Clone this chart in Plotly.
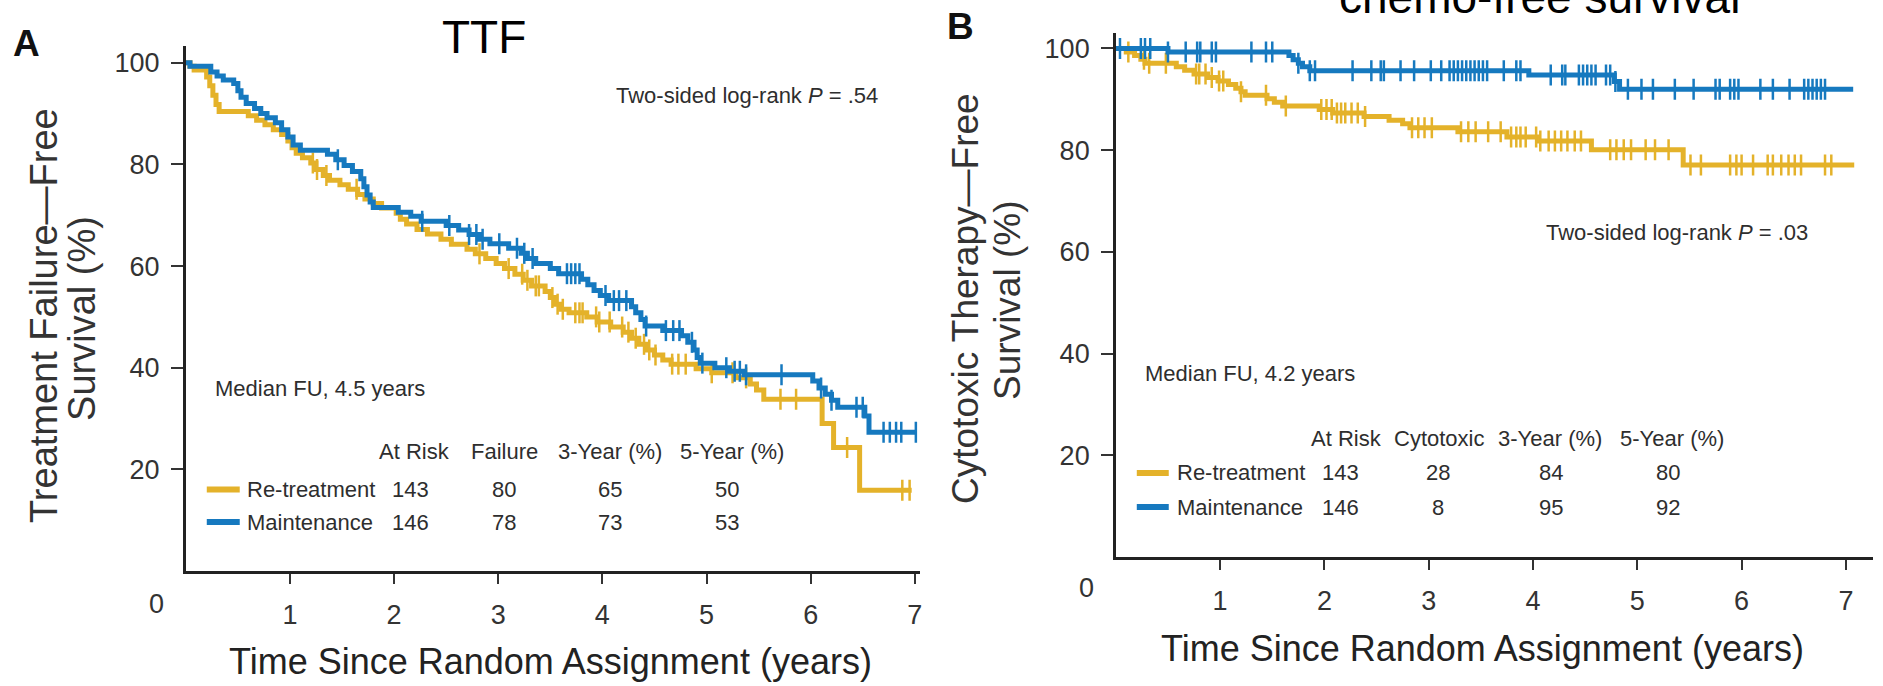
import plotly.graph_objects as go

W, H = 1883, 686

GOLD = "#E4B22A"
BLUE = "#1679BF"
INK = "#2e2e2e"
SANS = "Liberation Sans, Arial, Helvetica, sans-serif"

# ---------------- Panel A: treatment failure-free survival ----------------
A_MAINT_T = [0, 0.04, 0.24, 0.30, 0.36, 0.46, 0.50, 0.53, 0.58, 0.66,
             0.72, 0.78, 0.86, 0.92, 0.98, 1.03, 1.10, 1.36, 1.44, 1.52,
             1.60, 1.68, 1.71, 1.74, 1.77, 1.80, 2.04, 2.16, 2.26, 2.50,
             2.62, 2.72, 2.82, 2.92, 3.10, 3.22, 3.28, 3.36, 3.50, 3.58,
             3.80, 3.86, 3.92, 3.98, 4.06, 4.28, 4.32, 4.37, 4.41, 4.58,
             4.76, 4.82, 4.88, 4.91, 4.94, 5.08, 5.22, 5.36, 6.02, 6.08,
             6.14, 6.20, 6.26, 6.52, 6.56]
A_MAINT_S = [100, 99.3, 98.2, 97.4, 96.6, 95.9, 94.5, 93.2, 92.0, 91.0,
             90.0, 89.2, 88.2, 86.8, 85.4, 83.8, 82.8, 82.0, 80.9, 79.8,
             78.6, 77.2, 75.6, 74.0, 72.6, 71.5, 70.6, 69.8, 68.8, 68.0,
             67.1, 66.2, 65.3, 64.4, 63.5, 62.5, 61.5, 60.5, 59.5, 58.5,
             57.4, 56.3, 55.2, 54.2, 53.2, 52.0, 50.8, 49.5, 48.2, 47.3,
             46.3, 45.0, 43.5, 42.0, 40.9, 40.0, 39.3, 38.6, 37.4, 36.0,
             34.8, 33.6, 32.2, 30.5, 27.3]
A_MAINT_END = 7.02
A_MAINT_CENS = [1.46, 2.27, 2.53, 2.72, 2.79, 2.85, 3.01, 3.18, 3.25, 3.33,
                3.66, 3.70, 3.74, 3.78, 4.03, 4.11, 4.16, 4.23, 4.42, 4.61,
                4.68, 4.74, 4.86, 4.96, 5.19, 5.27, 5.32, 5.38, 5.72, 6.10,
                6.20, 6.44, 6.50, 6.70, 6.76, 6.82, 6.87, 7.01]

A_RETX_T = [0, 0.04, 0.08, 0.20, 0.23, 0.26, 0.29, 0.32, 0.60, 0.68,
            0.76, 0.84, 0.92, 0.98, 1.02, 1.06, 1.12, 1.20, 1.25, 1.32,
            1.38, 1.48, 1.56, 1.65, 1.72, 1.80, 1.88, 2.02, 2.06, 2.12,
            2.22, 2.32, 2.45, 2.55, 2.70, 2.78, 2.88, 2.98, 3.06, 3.16,
            3.24, 3.32, 3.45, 3.50, 3.54, 3.60, 3.68, 3.85, 3.95, 4.08,
            4.20, 4.28, 4.35, 4.42, 4.50, 4.58, 4.66, 4.90, 5.05, 5.28,
            5.42, 5.48, 5.55, 6.11, 6.22, 6.47]
A_RETX_S = [100, 99.3, 98.6, 97.2, 95.5, 93.6, 91.8, 90.4, 89.6, 88.7,
            87.8, 86.8, 85.9, 84.6, 83.3, 82.2, 81.3, 80.3, 79.0, 77.8,
            76.9, 76.0, 75.1, 74.1, 73.2, 72.3, 71.4, 70.4, 69.2, 68.3,
            67.2, 66.3, 65.3, 64.3, 63.3, 62.4, 61.5, 60.5, 59.5, 58.4,
            57.2, 56.1, 55.0, 53.8, 52.5, 51.5, 50.8, 50.0, 49.0, 48.0,
            47.0, 45.8, 44.6, 43.5, 42.5, 41.5, 40.7, 39.8, 39.0, 38.0,
            36.8, 35.6, 33.8, 29.0, 24.3, 15.9]
A_RETX_END = 6.97
A_RETX_CENS = [1.22, 1.26, 1.35, 1.64, 2.82, 3.10, 3.23, 3.28, 3.36, 3.39,
               3.52, 3.57, 3.62, 3.74, 3.78, 3.81, 3.94, 3.97, 4.07, 4.19,
               4.25, 4.32, 4.40, 4.45, 4.51, 4.67, 4.73, 4.80, 5.05, 5.25,
               5.38, 5.71, 5.86, 6.35, 6.88, 6.95]

A_HEAD = ["At Risk", "Failure", "3-Year (%)", "5-Year (%)"]
A_RETX_ROW = ["143", "80", "65", "50"]
A_MAINT_ROW = ["146", "78", "73", "53"]

# ---------------- Panel B: cytotoxic therapy-free survival ----------------
B_MAINT_T = [0, 0.50, 1.66, 1.70, 1.75, 1.79, 1.86, 3.96, 4.78, 4.83]
B_MAINT_S = [100, 99.3, 98.6, 97.8, 97.1, 96.4, 95.6, 94.8, 93.5, 92.0]
B_MAINT_END = 7.07
B_MAINT_CENS = [0.04, 0.24, 0.28, 0.33, 0.50, 0.67, 0.78, 0.81, 0.92, 0.96,
                1.30, 1.44, 1.50, 1.75, 1.86, 1.91, 2.27, 2.45, 2.54, 2.57,
                2.73, 2.86, 3.02, 3.12, 3.20, 3.24, 3.28, 3.32, 3.36, 3.40,
                3.44, 3.48, 3.52, 3.56, 3.72, 3.84, 3.88, 4.17, 4.28, 4.31,
                4.44, 4.48, 4.52, 4.56, 4.60, 4.70, 4.74, 4.79, 4.91, 5.04,
                5.15, 5.36, 5.54, 5.75, 5.79, 5.89, 5.93, 5.97, 6.18, 6.30,
                6.46, 6.60, 6.64, 6.68, 6.72, 6.76, 6.80]

B_RETX_T = [0, 0.10, 0.18, 0.24, 0.28, 0.58, 0.66, 0.75, 0.88, 0.98,
            1.08, 1.15, 1.20, 1.24, 1.45, 1.52, 1.60, 1.95, 2.08, 2.38,
            2.62, 2.75, 2.82, 3.28, 3.75, 4.05, 4.56, 5.44]
B_RETX_S = [100, 99.3, 98.6, 97.9, 97.1, 96.4, 95.7, 95.0, 94.3, 93.6,
            92.9, 92.2, 91.5, 90.8, 90.1, 89.4, 88.7, 88.0, 87.3, 86.6,
            85.9, 85.2, 84.4, 83.6, 82.6, 81.8, 80.1, 77.1]
B_RETX_END = 7.08
B_RETX_CENS = [0.12, 0.27, 0.32, 0.48, 0.77, 0.80, 0.86, 0.92, 0.99, 1.03,
               1.20, 1.44, 1.63, 1.97, 2.02, 2.07, 2.12, 2.16, 2.20, 2.26,
               2.32, 2.39, 2.84, 2.90, 2.96, 3.03, 3.31, 3.38, 3.45, 3.57,
               3.69, 3.79, 3.84, 3.88, 3.93, 4.03, 4.07, 4.15, 4.21, 4.27,
               4.33, 4.40, 4.46, 4.74, 4.80, 4.87, 4.94, 5.08, 5.17, 5.30,
               5.51, 5.61, 5.89, 5.95, 6.00, 6.11, 6.25, 6.30, 6.38, 6.45,
               6.51, 6.57, 6.80, 6.86]

B_HEAD = ["At Risk", "Cytotoxic", "3-Year (%)", "5-Year (%)"]
B_RETX_ROW = ["143", "28", "84", "80"]
B_MAINT_ROW = ["146", "8", "95", "92"]

ARM_LABELS = ["Re-treatment", "Maintenance"]
X_TICKS = [1, 2, 3, 4, 5, 6, 7]
Y_TICKS = [20, 40, 60, 80, 100]


def fx(px):
    return px / W


def fy(py):
    return 1 - py / H


def surv_at(ts, ss, t):
    v = ss[0]
    for ti, si in zip(ts, ss):
        if ti <= t:
            v = si
    return v


fig = go.Figure()


def add_km(ts, ss, end, cens, color, xa, ya):
    # step curve, then censoring ticks sitting on it
    fig.add_trace(go.Scatter(
        x=list(ts) + [end], y=list(ss) + [ss[-1]], mode="lines",
        line=dict(color=color, width=5, shape="hv"),
        xaxis=xa, yaxis=ya, showlegend=False, hoverinfo="skip"))
    fig.add_trace(go.Scatter(
        x=cens, y=[surv_at(ts, ss, c) for c in cens], mode="markers",
        marker=dict(symbol="line-ns", size=15, line=dict(color=color, width=2.5)),
        xaxis=xa, yaxis=ya, showlegend=False, hoverinfo="skip"))


add_km(A_RETX_T, A_RETX_S, A_RETX_END, A_RETX_CENS, GOLD, "x", "y")
add_km(A_MAINT_T, A_MAINT_S, A_MAINT_END, A_MAINT_CENS, BLUE, "x", "y")
add_km(B_RETX_T, B_RETX_S, B_RETX_END, B_RETX_CENS, GOLD, "x2", "y2")
add_km(B_MAINT_T, B_MAINT_S, B_MAINT_END, B_MAINT_CENS, BLUE, "x2", "y2")

tickfont = dict(family=SANS, size=27, color="#333333")


def xaxis(domain, rng, anchor):
    return dict(domain=domain, range=rng, anchor=anchor, tickvals=X_TICKS,
                ticks="outside", ticklen=10, tickwidth=2, tickcolor="#333333",
                showline=True, linewidth=2.5, linecolor="#222222",
                showgrid=False, zeroline=False, tickfont=tickfont,
                ticklabelstandoff=8, fixedrange=True)


def yaxis(domain, rng, anchor):
    return dict(domain=domain, range=rng, anchor=anchor, tickvals=Y_TICKS,
                ticks="outside", ticklen=12, tickwidth=2, tickcolor="#333333",
                showline=True, linewidth=2.5, linecolor="#222222",
                showgrid=False, zeroline=False, tickfont=tickfont,
                ticklabelstandoff=6, fixedrange=True)


annotations = []
shapes = []
SMALL = 22


def text(s, x, y, size, family=SANS, color=INK, xanchor="center",
         yanchor="middle", angle=0):
    annotations.append(dict(text=s, x=fx(x), y=fy(y), xref="paper", yref="paper",
                            xanchor=xanchor, yanchor=yanchor, showarrow=False,
                            textangle=angle, font=dict(family=family, size=size, color=color)))


def swatch(x0, x1, y, color):
    shapes.append(dict(type="line", xref="paper", yref="paper", x0=fx(x0), x1=fx(x1),
                       y0=fy(y), y1=fy(y), line=dict(color=color, width=6)))


def table(head, rows, head_x, val_x, head_y, row_y, label_x, sw_x):
    for h, x in zip(head, head_x):
        text(h, x, head_y, SMALL)
    for row, lab, y, col in zip(rows, ARM_LABELS, row_y, [GOLD, BLUE]):
        swatch(sw_x[0], sw_x[1], y, col)
        text(lab, label_x, y, SMALL, xanchor="left")
        for v, x in zip(row, val_x):
            text(v, x, y, SMALL)


# Panel A decorations
text("<b>A</b>", 27, 44, 37, color="#111111")
text("TTF", 485, 37, 46, color="#000000")
text("Treatment Failure\u2014Free", 44, 315, 38, color="#333333", angle=-90)
text("Survival (%)", 82, 318, 38, color="#333333", angle=-90)
text("Time Since Random Assignment (years)", 551, 661, 36, color="#222222")
text("Two-sided log-rank <i>P</i> = .54", 881, 95, SMALL, xanchor="right")
text("Median FU, 4.5 years", 213, 388, SMALL, xanchor="left")
text("0", 157, 603.5, 27, color="#333333")
table(A_HEAD, [A_RETX_ROW, A_MAINT_ROW], [415, 505, 611, 733], [411, 505, 611, 728],
      451, [489.5, 522], 245, (207, 240))

# Panel B decorations
text("<b>B</b>", 962, 27, 37, color="#111111")
text("chemo-free survival", 1541, 25, 46, color="#000000", yanchor="bottom")
text("Cytotoxic Therapy\u2014Free", 966, 298, 37, color="#333333", angle=-90)
text("Survival (%)", 1008, 300, 37, color="#333333", angle=-90)
text("Time Since Random Assignment (years)", 1484, 648.5, 36, color="#222222")
text("Two-sided log-rank <i>P</i> = .03", 1812, 233, SMALL, xanchor="right")
text("Median FU, 4.2 years", 1144, 373, SMALL, xanchor="left")
text("0", 1088, 588, 27, color="#333333")
table(B_HEAD, [B_RETX_ROW, B_MAINT_ROW], [1348, 1441, 1552, 1674], [1342, 1440, 1553, 1670],
      438, [473, 507], 1176, (1138, 1170))

fig.update_layout(
    width=W, height=H, margin=dict(l=0, r=0, t=0, b=0),
    paper_bgcolor="white", plot_bgcolor="white",
    xaxis=xaxis([fx(186), fx(921)], [0, 7.05], "y"),
    yaxis=yaxis([fy(571), fy(46)], [0, 103.3], "x"),
    xaxis2=xaxis([fx(1117), fx(1875)], [0, 7.26], "y2"),
    yaxis2=yaxis([fy(557), fy(32.7)], [0, 103.1], "x2"),
    annotations=annotations, shapes=shapes,
)

fig.write_html("out.html")
